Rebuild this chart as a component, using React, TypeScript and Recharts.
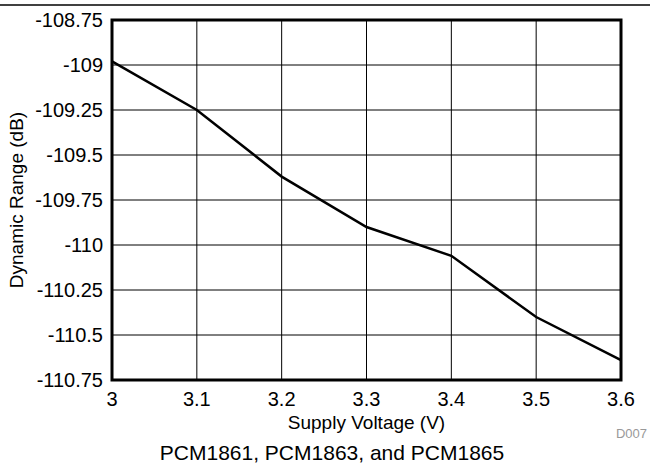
import React from "react";
import {
  LineChart,
  Line,
  XAxis,
  YAxis,
  CartesianGrid,
  ReferenceArea,
} from "recharts";

const voltages = [3, 3.1, 3.2, 3.3, 3.4, 3.5, 3.6];
const dynamicRange = [-108.98, -109.25, -109.62, -109.9, -110.06, -110.4, -110.64];
const yTicks = [-108.75, -109, -109.25, -109.5, -109.75, -110, -110.25, -110.5, -110.75];

const data = voltages.map((v, i) => ({ v, dr: dynamicRange[i] }));

const font = "'Liberation Sans', Arial, sans-serif";

export default function App() {
  return (
    <div style={{ position: "absolute", left: 0, top: 0, width: 650, height: 464, background: "#fff", fontFamily: font }}>
      <svg width={650} height={464} style={{ position: "absolute", left: 0, top: 0 }}>
        <line x1={0} y1={5} x2={650} y2={5} stroke="#000" strokeWidth={1.5} />
        <text x={332} y={460} textAnchor="middle" fontSize={21} fill="#000" fontFamily={font}>
          PCM1861, PCM1863, and PCM1865
        </text>
        <text x={647} y={438} textAnchor="end" fontSize={13} fill="#999" fontFamily={font}>
          D007
        </text>
      </svg>
      <div style={{ position: "absolute", left: 0, top: 0 }}>
        <LineChart width={650} height={464} data={data} margin={{ top: 20, right: 29, bottom: 54, left: 0 }}>
          <CartesianGrid stroke="#000" strokeWidth={1} />
          <XAxis
            dataKey="v"
            type="number"
            domain={[3, 3.6]}
            ticks={voltages}
            tickFormatter={(t) => String(t)}
            height={30}
            tickLine={false}
            axisLine={false}
            tickSize={0}
            tickMargin={12}
            tick={{ fill: "#000", fontSize: 20, fontFamily: font }}
            label={{ value: "Supply Voltage (V)", position: "insideBottom", offset: -19, fill: "#000", fontSize: 19, fontFamily: font }}
          />
          <YAxis
            type="number"
            domain={[-110.75, -108.75]}
            ticks={yTicks}
            interval={0}
            width={112}
            tickLine={false}
            axisLine={false}
            tickSize={0}
            tickMargin={9}
            tick={{ fill: "#000", fontSize: 20, fontFamily: font }}
            label={{ value: "Dynamic Range (dB)", angle: -90, position: "insideLeft", offset: 16, fill: "#000", fontSize: 19, fontFamily: font, style: { textAnchor: "middle" } }}
          />
          <ReferenceArea x1={3} x2={3.6} y1={-110.75} y2={-108.75} fill="none" stroke="#000" strokeWidth={3} ifOverflow="visible" />
          <Line
            type="linear"
            dataKey="dr"
            stroke="#000"
            strokeWidth={2.5}
            dot={false}
            isAnimationActive={false}
          />
        </LineChart>
      </div>
    </div>
  );
}
